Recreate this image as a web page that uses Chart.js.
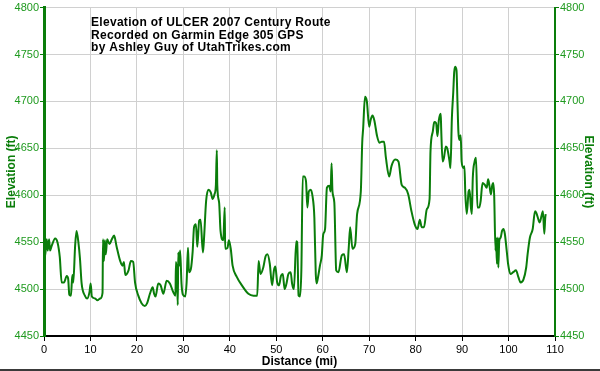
<!DOCTYPE html>
<html>
<head>
<meta charset="utf-8">
<script src="https://cdn.jsdelivr.net/npm/chart.js@4"></script>
<style>
  body { margin: 0; background: #fff; }
  #wrap { width: 600px; height: 369px; border-bottom: 2px solid #3a3a3a; }
</style>
</head>
<body>
<div id="wrap"><canvas id="elevChart" width="600" height="369"></canvas></div>
<script>
// ================= DATA =================
const titleLines = [
  "Elevation of ULCER 2007 Century Route",
  "Recorded on Garmin Edge 305 GPS",
  "by Ashley Guy of UtahTrikes.com"
];

const distanceMi = [
  0, 0.2, 0.6, 0.8, 1.1, 1.3, 1.65, 2.4, 2.9, 3.4, 3.8, 4.3, 4.9, 5.2, 5.45, 5.8, 6.1, 6.3, 6.7, 7.0,
  7.4, 7.75, 8.1, 8.8, 9.3, 9.8, 10.05, 10.3, 11.0, 11.5, 12.1, 12.6, 12.7, 12.9, 13.1, 13.3, 13.6, 14.1, 14.6, 15.1,
  15.6, 16.4, 16.9, 17.2, 17.5, 18.2, 18.7, 19.2, 19.6, 20.3, 21.0, 21.7, 22.2, 22.8, 23.4, 23.7, 24.0, 24.6, 25.1, 25.7,
  26.4, 27.1, 27.8, 28.3, 28.4, 28.6, 28.8, 28.9, 29.1, 29.3, 29.6, 29.9, 30.4, 30.7, 31.0, 31.2, 31.6, 32.0, 32.3, 32.7,
  33.0, 33.4, 33.7, 34.2, 34.4, 34.9, 35.4, 35.9, 36.3, 36.7, 37.0, 37.2, 37.3, 37.7, 38.0, 38.6, 38.9, 39.0, 39.5, 39.8,
  40.2, 40.6, 41.5, 42.6, 44.0, 45.1, 45.9, 46.2, 46.6, 47.2, 47.7, 48.1, 48.6, 49.1, 49.5, 49.8, 50.2, 50.6, 51.0, 51.4,
  51.8, 52.2, 52.6, 53.1, 53.4, 53.8, 54.3, 54.5, 54.8, 55.1, 55.4, 55.7, 56.0, 56.4, 56.7, 57.0, 57.4, 57.8, 58.2, 58.5,
  58.7, 59.0, 59.4, 59.8, 60.1, 60.5, 60.9, 61.4, 61.7, 61.9, 62.1, 62.5, 62.9, 63.4, 64.1, 64.6, 65.2, 65.6, 65.9, 66.4,
  67.0, 67.4, 68.2, 68.5, 68.7, 69.1, 69.5, 70.0, 70.3, 70.7, 71.1, 71.7, 72.2, 72.7, 73.2, 73.6, 74.3, 74.8, 75.6, 76.3,
  77.0, 77.7, 78.4, 79.1, 79.8, 80.4, 80.9, 81.3, 81.8, 82.4, 83.0, 83.2, 83.7, 84.0, 84.4, 84.7, 85.0, 85.4, 85.5, 85.8,
  86.1, 86.5, 86.8, 87.3, 87.5, 87.8, 88.1, 88.3, 88.5, 88.8, 89.0, 89.2, 89.4, 89.7, 89.9, 90.3, 90.5, 90.7, 91.0, 91.4,
  91.6, 91.9, 92.1, 92.3, 92.7, 93.0, 93.3, 93.7, 94.0, 94.4, 94.9, 95.3, 95.6, 95.9, 96.2, 96.5, 96.7, 96.9, 97.2, 97.3,
  97.5, 97.7, 97.8, 98.0, 98.3, 98.6, 98.9, 99.2, 99.6, 99.9, 100.4, 101.0, 101.6, 102.1, 102.6, 103.2, 103.8, 104.1, 104.6, 105.2,
  105.7, 106.0, 106.5, 106.7, 107.1, 107.4, 107.7, 107.9, 108.0
];

const elevationFt = [
  4550, 4534, 4553, 4541, 4553, 4541, 4546, 4554, 4550, 4534, 4507, 4507, 4514, 4511, 4494, 4493, 4515, 4507, 4546, 4562,
  4550, 4532, 4506, 4493, 4490, 4497, 4506, 4492, 4490, 4488, 4490, 4496, 4553, 4530, 4552, 4537, 4553, 4548, 4553, 4557,
  4546, 4530, 4525, 4529, 4515, 4520, 4530, 4529, 4507, 4493, 4485, 4482, 4485, 4495, 4502, 4495, 4492, 4506, 4504, 4495,
  4509, 4506, 4497, 4493, 4529, 4518, 4483, 4539, 4525, 4541, 4506, 4494, 4492, 4507, 4544, 4518, 4521, 4540, 4566, 4569,
  4545, 4573, 4574, 4539, 4550, 4594, 4606, 4603, 4596, 4601, 4611, 4648, 4611, 4592, 4562, 4552, 4587, 4543, 4544, 4552,
  4543, 4525, 4513, 4504, 4495, 4493, 4493, 4530, 4516, 4523, 4535, 4537, 4527, 4504, 4520, 4524, 4507, 4504, 4514, 4516,
  4500, 4506, 4516, 4518, 4506, 4500, 4551, 4550, 4493, 4492, 4520, 4620, 4620, 4615, 4587, 4604, 4606, 4599, 4576, 4516,
  4506, 4513, 4525, 4536, 4558, 4564, 4608, 4610, 4604, 4634, 4604, 4592, 4520, 4518, 4536, 4537, 4518, 4544, 4566, 4543,
  4548, 4580, 4604, 4656, 4671, 4705, 4700, 4673, 4680, 4685, 4680, 4663, 4656, 4657, 4657, 4640, 4620, 4631, 4638, 4636,
  4611, 4608, 4601, 4583, 4569, 4564, 4574, 4566, 4566, 4585, 4596, 4647, 4668, 4678, 4677, 4663, 4680, 4687, 4671, 4636,
  4640, 4652, 4650, 4636, 4629, 4682, 4710, 4731, 4737, 4733, 4700, 4668, 4659, 4664, 4636, 4629, 4631, 4601, 4580, 4604,
  4606, 4587, 4580, 4618, 4636, 4640, 4587, 4587, 4594, 4613, 4611, 4608, 4617, 4610, 4601, 4611, 4613, 4601, 4541, 4555,
  4527, 4555, 4523, 4551, 4555, 4562, 4564, 4559, 4541, 4527, 4516, 4518, 4520, 4513, 4507, 4510, 4523, 4537, 4555, 4564,
  4583, 4581, 4573, 4571, 4578, 4583, 4559, 4576, 4580
];

const xRange = [0, 110];
const yRange = [4450, 4800];

// ================= STYLE =================
const GREEN = "#0a7d0a";
const LABEL_GREEN = "#1f9a1f";
const GRID = "#d0d0d0";
const FONT = "'Liberation Sans', Arial, sans-serif";

const points = distanceMi.map((d, i) => ({ x: d, y: elevationFt[i] }));

// title text drawn inside the plot area
const innerTitle = {
  id: "innerTitle",
  afterDraw(chart) {
    const ctx = chart.ctx;
    ctx.save();
    ctx.font = "bold 12px " + FONT;
    ctx.letterSpacing = "0.3px";
    ctx.fillStyle = "#000";
    ctx.textBaseline = "alphabetic";
    titleLines.forEach((t, i) => ctx.fillText(t, 91, 26 + i * 12.5));
    ctx.restore();
  }
};

function yAxis(position, borderWidth) {
  return {
    type: "linear",
    position: position,
    min: yRange[0],
    max: yRange[1],
    ticks: {
      stepSize: 50,
      color: LABEL_GREEN,
      font: { family: FONT, size: 11 },
      padding: 1,
      callback: v => String(v)
    },
    grid: {
      color: GRID,
      tickColor: GREEN,
      tickLength: 4,
      drawOnChartArea: position === "left"
    },
    border: { color: GREEN, width: borderWidth },
    title: {
      display: true,
      text: "Elevation (ft)",
      color: GREEN,
      font: { family: FONT, size: 12, weight: "bold" },
      padding: { top: 4, bottom: 0 }
    },
    afterFit: s => { s.width = position === "left" ? 44 : 45; }
  };
}

new Chart(document.getElementById("elevChart").getContext("2d"), {
  type: "line",
  data: {
    datasets: [{
      data: points,
      borderColor: GREEN,
      borderWidth: 2,
      pointRadius: 0,
      cubicInterpolationMode: "monotone",
      fill: false,
      yAxisID: "y"
    }, {
      data: [],
      yAxisID: "y2"
    }]
  },
  options: {
    responsive: false,
    animation: false,
    layout: { padding: { top: 5, left: 0, right: 0, bottom: 0 } },
    plugins: { legend: { display: false }, tooltip: { enabled: false } },
    scales: {
      x: {
        type: "linear",
        min: xRange[0],
        max: xRange[1],
        ticks: {
          stepSize: 10,
          color: "#000",
          font: { family: FONT, size: 11 },
          padding: 2,
          maxRotation: 0,
          callback: v => String(v)
        },
        grid: { color: GRID, tickColor: "#000", tickLength: 5 },
        border: { color: "#000", width: 2 },
        title: {
          display: true,
          text: "Distance (mi)",
          color: "#000",
          font: { family: FONT, size: 12, weight: "bold" },
          padding: { top: 0, bottom: 0 }
        },
        afterFit: s => { s.height = 33; }
      },
      y: yAxis("left", 3),
      y2: yAxis("right", 2)
    }
  },
  plugins: [innerTitle]
});
</script>
</body>
</html>
